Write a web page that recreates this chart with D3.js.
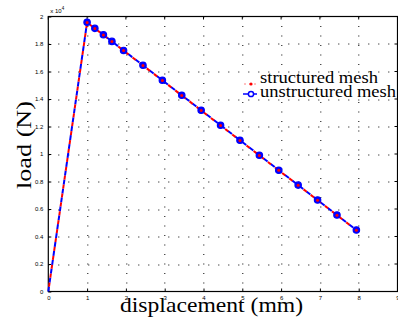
<!DOCTYPE html>
<html>
<head>
<meta charset="utf-8">
<script src="https://cdn.jsdelivr.net/npm/d3@7"></script>
<style>
  html, body { margin: 0; padding: 0; background: #fff; }
  svg { display: block; }
</style>
</head>
<body>
<div id="chart"></div>
<script>
// displacement (mm) and load (x 10^4 N)
const structuredX = [0, 1, 1.2, 1.42, 1.64, 1.94, 2.44, 2.94, 3.44, 3.94, 4.44, 4.94, 5.44, 5.94, 6.44, 6.94, 7.44, 7.94];
const structuredY = [0, 1.956, 1.913, 1.866, 1.818, 1.752, 1.644, 1.535, 1.426, 1.317, 1.208, 1.099, 0.990, 0.881, 0.773, 0.664, 0.555, 0.446];
const unstructuredX = [0, 1, 1.2, 1.42, 1.64, 1.94, 2.44, 2.94, 3.44, 3.94, 4.44, 4.94, 5.44, 5.94, 6.44, 6.94, 7.44, 7.94];
const unstructuredY = [0, 1.958, 1.914, 1.867, 1.819, 1.753, 1.645, 1.536, 1.427, 1.318, 1.209, 1.100, 0.991, 0.882, 0.774, 0.665, 0.556, 0.447];
const xTicks = [0, 1, 2, 3, 4, 5, 6, 7, 8, 9];
const yTicks = [0, 0.2, 0.4, 0.6, 0.8, 1, 1.2, 1.4, 1.6, 1.8, 2];
const legendLabels = ['structured mesh', 'unstructured mesh'];

const width = 398, height = 321;
const margin = { top: 16.5, right: 0.5, bottom: 29.5, left: 48.3 };
const w = width - margin.left - margin.right;
const h = height - margin.top - margin.bottom;
const serif = 'Liberation Serif, Times New Roman, serif';

const svg = d3.select('#chart').append('svg')
  .attr('width', width)
  .attr('height', height);

const g = svg.append('g')
  .attr('transform', `translate(${margin.left},${margin.top})`);

const x = d3.scaleLinear().domain([0, 9]).range([0, w]);
const y = d3.scaleLinear().domain([0, 2]).range([h, 0]);

// dotted grid
g.selectAll('.vgrid')
  .data(xTicks.slice(1, -1))
  .join('line')
  .attr('x1', d => Math.round(x(d)) + 0.5)
  .attr('x2', d => Math.round(x(d)) + 0.5)
  .attr('y1', 0).attr('y2', h)
  .attr('stroke', '#000')
  .attr('stroke-width', 1)
  .attr('stroke-dasharray', '1,8.5');

g.selectAll('.hgrid')
  .data(yTicks.slice(1, -1))
  .join('line')
  .attr('x1', 0).attr('x2', w)
  .attr('y1', d => Math.round(y(d)) + 0.5)
  .attr('y2', d => Math.round(y(d)) + 0.5)
  .attr('stroke', '#000')
  .attr('stroke-width', 1)
  .attr('stroke-dasharray', '1,9');

// axes
const xAxis = d3.axisBottom(x).tickValues(xTicks).tickSize(-3).tickPadding(4)
  .tickFormat(d3.format('d'));
const yAxis = d3.axisLeft(y).tickValues(yTicks).tickSize(-3).tickPadding(5)
  .tickFormat(d => d === 0 ? '0' : d3.format('.1~f')(d));

const gx = g.append('g').attr('transform', `translate(0,${h})`).call(xAxis);
const gy = g.append('g').call(yAxis);
[gx, gy].forEach(a => {
  a.select('.domain').remove();
  a.selectAll('text')
    .attr('font-family', 'Liberation Sans, Arial, sans-serif')
    .attr('font-size', 6)
    .attr('fill', '#000');
  a.selectAll('line').attr('stroke', '#000');
});

// top / right ticks
g.selectAll('.tt').data(xTicks).join('line')
  .attr('x1', d => x(d)).attr('x2', d => x(d))
  .attr('y1', 0).attr('y2', 3).attr('stroke', '#000');
g.selectAll('.rt').data(yTicks).join('line')
  .attr('x1', w).attr('x2', w - 3)
  .attr('y1', d => y(d)).attr('y2', d => y(d)).attr('stroke', '#000');

g.append('rect')
  .attr('width', w).attr('height', h)
  .attr('fill', 'none')
  .attr('stroke', '#000')
  .attr('stroke-width', 1.2);

// exponent label
const expo = g.append('text')
  .attr('x', 2).attr('y', -4)
  .attr('font-family', 'Liberation Sans, Arial, sans-serif')
  .attr('font-size', 6);
expo.append('tspan').text('x 10');
expo.append('tspan').attr('dy', -2.5).attr('font-size', 4.5).text('4');

// series
const structured = structuredX.map((d, i) => [d, structuredY[i]]);
const unstructured = unstructuredX.map((d, i) => [d, unstructuredY[i]]);
const line = d3.line().x(d => x(d[0])).y(d => y(d[1]));

g.append('path')
  .datum(unstructured)
  .attr('d', line)
  .attr('fill', 'none')
  .attr('stroke', '#0000ff')
  .attr('stroke-width', 2)
  .attr('stroke-dasharray', '5,4');

g.append('path')
  .datum(structured)
  .attr('d', line)
  .attr('fill', 'none')
  .attr('stroke', '#ff0000')
  .attr('stroke-width', 2)
  .attr('stroke-dasharray', '4,5')
  .attr('stroke-dashoffset', -5);

g.selectAll('.umark')
  .data(unstructured.slice(1))
  .join('circle')
  .attr('cx', d => x(d[0]))
  .attr('cy', d => y(d[1]))
  .attr('r', 3.2)
  .attr('fill', '#0000ff')
  .attr('stroke', '#0000ff')
  .attr('stroke-width', 1.2);

g.selectAll('.smark')
  .data(structured.slice(1))
  .join('circle')
  .attr('cx', d => x(d[0]))
  .attr('cy', d => y(d[1]))
  .attr('r', 1.5)
  .attr('fill', '#ff0000');

// legend
const lg = svg.append('g').attr('transform', 'translate(242,73)');
lg.append('rect')
  .attr('x', 0).attr('y', 0)
  .attr('width', 154).attr('height', 25)
  .attr('fill', '#fff');

lg.append('line')
  .attr('x1', 2).attr('x2', 16).attr('y1', 11).attr('y2', 11)
  .attr('stroke', '#ff0000').attr('stroke-width', 1)
  .attr('stroke-dasharray', '2,3').attr('opacity', 0.5);
lg.append('circle')
  .attr('cx', 9).attr('cy', 11).attr('r', 1.6)
  .attr('fill', '#ff0000');

lg.append('line')
  .attr('x1', 1).attr('x2', 15).attr('y1', 21).attr('y2', 21)
  .attr('stroke', '#0000ff').attr('stroke-width', 1.5);
lg.append('circle')
  .attr('cx', 9).attr('cy', 21).attr('r', 2.6)
  .attr('fill', '#fff')
  .attr('stroke', '#0000ff').attr('stroke-width', 1.5);

const legendWidths = [118, 136];
lg.selectAll('.lt')
  .data(legendLabels)
  .join('text')
  .attr('x', 18)
  .attr('y', (d, i) => 10 + i * 14)
  .attr('font-family', serif)
  .attr('font-size', 16.5)
  .attr('textLength', (d, i) => legendWidths[i])
  .attr('lengthAdjust', 'spacingAndGlyphs')
  .attr('fill', '#000')
  .text(d => d);

// axis titles
svg.append('text')
  .attr('x', 211.5).attr('y', 312)
  .attr('text-anchor', 'middle')
  .attr('font-family', serif)
  .attr('font-size', 22)
  .attr('textLength', 183)
  .attr('lengthAdjust', 'spacingAndGlyphs')
  .text('displacement (mm)');

svg.append('text')
  .attr('transform', 'translate(31,145) rotate(-90)')
  .attr('text-anchor', 'middle')
  .attr('font-family', serif)
  .attr('font-size', 22)
  .attr('textLength', 88)
  .attr('lengthAdjust', 'spacingAndGlyphs')
  .text('load (N)');
</script>
</body>
</html>
